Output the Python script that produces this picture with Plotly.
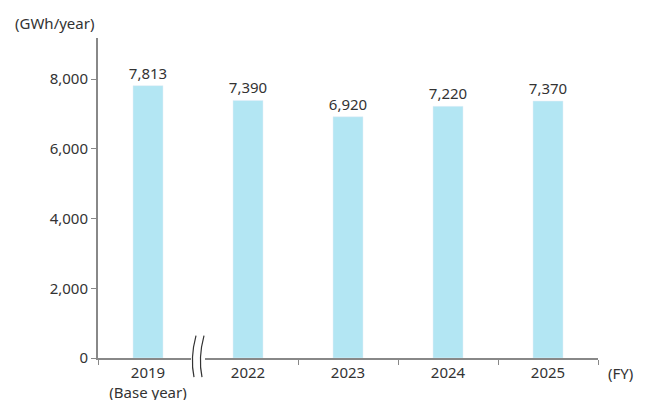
import plotly.graph_objects as go

years = ['2019<br>(Base year)', '2022', '2023', '2024', '2025']
power = [7813, 7390, 6920, 7220, 7370]  # GWh/year

fig = go.Figure()
fig.add_trace(go.Bar(
    x=list(range(len(years))),
    y=power,
    width=0.3,
    marker_color='#B3E6F3',
    text=[f'{v:,}' for v in power],
    textposition='outside',
    constraintext='none',
    textfont=dict(size=15, color='#333333'),
    cliponaxis=False,
))

# axis break between 2019 and 2022
fig.add_shape(type='rect', x0=0.43, x1=0.57, y0=-0.02, y1=0.02, xref='x', yref='paper',
              fillcolor='white', line_width=0, layer='above')
for dx in (-0.04, 0.04):
    fig.add_shape(type='path', xref='x', yref='paper',
                  path=f'M {0.5+dx+0.02},0.07 Q {0.5+dx-0.04},0.0 {0.5+dx},-0.06',
                  line=dict(color='#333333', width=1.2), layer='above')

fig.update_layout(
    width=660, height=400,
    margin=dict(l=90, r=70, t=30, b=50),
    plot_bgcolor='white', paper_bgcolor='white',
    font=dict(family='Noto Sans', size=15, color='#333333'),
    showlegend=False,
    xaxis=dict(range=[-0.5, 4.5], tickvals=list(range(len(years))), ticktext=years,
               showline=True, linecolor='#888888', linewidth=2, ticks='', showgrid=False,
               automargin=False,
               minor=dict(tickvals=[-0.5, 1.5, 2.5, 3.5, 4.5], ticks='outside', ticklen=5,
                          tickcolor='#888888', showgrid=False)),
    yaxis=dict(range=[0, 9180], tickvals=[0, 2000, 4000, 6000, 8000], tickformat=',',
               showline=True, linecolor='#888888', linewidth=2, ticks='outside', ticklen=5,
               tickcolor='#888888', showgrid=False, zeroline=False, automargin=False),
)
fig.add_annotation(text='(GWh/year)', xref='paper', yref='paper', x=-0.17, y=1.01,
                   xanchor='left', yanchor='bottom', showarrow=False, font=dict(size=15))
fig.add_annotation(text='(FY)', xref='paper', yref='paper', x=1.015, y=0,
                   xanchor='left', yanchor='top', showarrow=False, font=dict(size=15), yshift=-3)

fig.write_html("out.html")
